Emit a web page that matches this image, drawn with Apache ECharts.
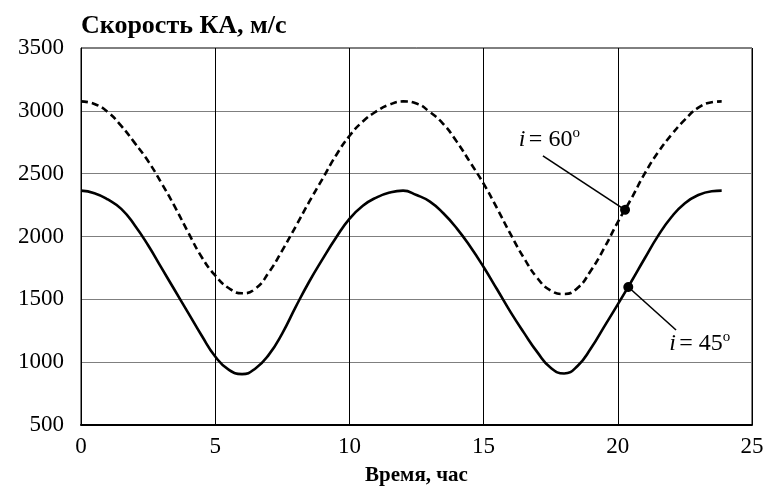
<!DOCTYPE html>
<html>
<head>
<meta charset="utf-8">
<script src="https://cdn.jsdelivr.net/npm/echarts@6/dist/echarts.min.js"></script>
<style>
  html, body { margin: 0; padding: 0; background: #fff; }
  #main { width: 770px; height: 487px; }
</style>
</head>
<body>
<div id="main"></div>
<script>
// время, час — общая сетка для обеих кривых
const hours = [0, 0.5, 1, 1.5, 2, 2.5, 3, 3.5, 4, 4.5, 5, 5.5, 6, 6.5, 7, 7.5, 8, 8.5, 9, 9.5, 10, 10.5, 11, 11.5,
  12, 12.5, 13, 13.5, 14, 14.5, 15, 15.5, 16, 16.5, 17, 17.5, 18, 18.5, 19, 19.5, 20, 20.5, 21, 21.5, 22, 22.5, 23, 23.5, 23.87];
// скорость КА, м/с
const speed60 = [3075, 3055, 2990, 2880, 2745, 2600, 2425, 2235, 2030, 1835, 1690, 1590, 1548, 1585, 1715, 1890, 2080, 2275, 2460, 2645, 2800, 2915, 2995, 3050,
  3075, 3058, 2990, 2895, 2755, 2590, 2420, 2225, 2020, 1830, 1670, 1570, 1542, 1590, 1730, 1910, 2115, 2300, 2500, 2670, 2810, 2930, 3025, 3068, 3075];
const speed45 = [2365, 2345, 2295, 2220, 2090, 1930, 1750, 1570, 1390, 1210, 1045, 940, 905, 950, 1060, 1230, 1440, 1640, 1820, 1990, 2140, 2245, 2310, 2350,
  2365, 2330, 2278, 2185, 2065, 1920, 1757, 1580, 1400, 1235, 1080, 955, 910, 970, 1110, 1285, 1460, 1640, 1825, 2005, 2155, 2265, 2330, 2360, 2365];

const xTicks = [0, 5, 10, 15, 20, 25];
const yTicks = [500, 1000, 1500, 2000, 2500, 3000, 3500];

// выноски: точка на кривой, конец линии, место подписи
const dot60 = [20.27, 2212], end60 = [17.21, 2642], lab60 = [17.45, 2772];
const dot45 = [20.39, 1598], end45 = [22.17, 1256], lab45 = [23.05, 1150];

const FONT = '"Liberation Serif", "DejaVu Serif", serif';

const pair = (xs, ys) => xs.map((x, k) => [x, ys[k]]);

const labelRich = {
  i: { fontFamily: FONT, fontStyle: 'italic', fontSize: 24, color: '#000' },
  n: { fontFamily: FONT, fontSize: 24, color: '#000' },
  s: { fontFamily: FONT, fontSize: 15, color: '#000', padding: [0, 0, 13, 0] }
};

const leader = (dot, end) => ({
  silent: true,
  animation: false,
  lineStyle: { color: '#000', type: 'solid', width: 1.6 },
  label: { show: false },
  data: [[
    { coord: dot, symbol: 'circle', symbolSize: 10, itemStyle: { color: '#000' } },
    { coord: end, symbol: 'none' }
  ]]
});

const tag = (pos, val) => ({
  silent: true,
  animation: false,
  data: [{
    coord: pos,
    symbol: 'circle',
    symbolSize: 0,
    label: {
      show: true,
      position: 'inside',
      formatter: '{i|i} {n|= ' + val + '}{s|o}',
      rich: labelRich
    }
  }]
});

var chartDom = document.getElementById('main');
var myChart = echarts.init(chartDom);
var option = {
  animation: false,
  backgroundColor: '#fff',
  title: {
    text: 'Скорость КА, м/с',
    left: 76,
    top: 8,
    textStyle: { fontFamily: FONT, fontWeight: 'bold', fontSize: 26, color: '#000' }
  },
  grid: {
    left: 81, right: 18, top: 48, bottom: 62,
    outerBoundsMode: 'none',
    show: true, borderColor: '#000', borderWidth: 1
  },
  xAxis: {
    type: 'value',
    min: xTicks[0],
    max: xTicks[xTicks.length - 1],
    interval: 5,
    name: 'Время, час',
    nameLocation: 'middle',
    nameGap: 40,
    nameTextStyle: { fontFamily: FONT, fontWeight: 'bold', fontSize: 21, color: '#000' },
    axisLine: { lineStyle: { color: '#000', width: 2 } },
    axisTick: { show: false },
    axisLabel: { fontFamily: FONT, fontSize: 23, color: '#000', margin: 10 },
    splitLine: { lineStyle: { color: '#000', width: 1 } }
  },
  yAxis: {
    type: 'value',
    min: yTicks[0],
    max: yTicks[yTicks.length - 1],
    interval: 500,
    axisLine: { show: true, lineStyle: { color: '#000', width: 1 } },
    axisTick: { show: false },
    axisLabel: { fontFamily: FONT, fontSize: 23, color: '#000', margin: 17, formatter: v => String(v) },
    splitLine: { lineStyle: { color: '#7f7f7f', width: 1.2 } }
  },
  series: [
    {
      name: 'i = 60',
      type: 'line',
      data: pair(hours, speed60),
      smooth: true,
      showSymbol: false,
      lineStyle: { color: '#000', width: 2.6, type: [7, 4] },
      markLine: leader(dot60, end60),
      markPoint: tag(lab60, 60)
    },
    {
      name: 'i = 45',
      type: 'line',
      data: pair(hours, speed45),
      smooth: true,
      showSymbol: false,
      lineStyle: { color: '#000', width: 2.6 },
      markLine: leader(dot45, end45),
      markPoint: tag(lab45, 45)
    }
  ]
};
myChart.setOption(option);
</script>
</body>
</html>
